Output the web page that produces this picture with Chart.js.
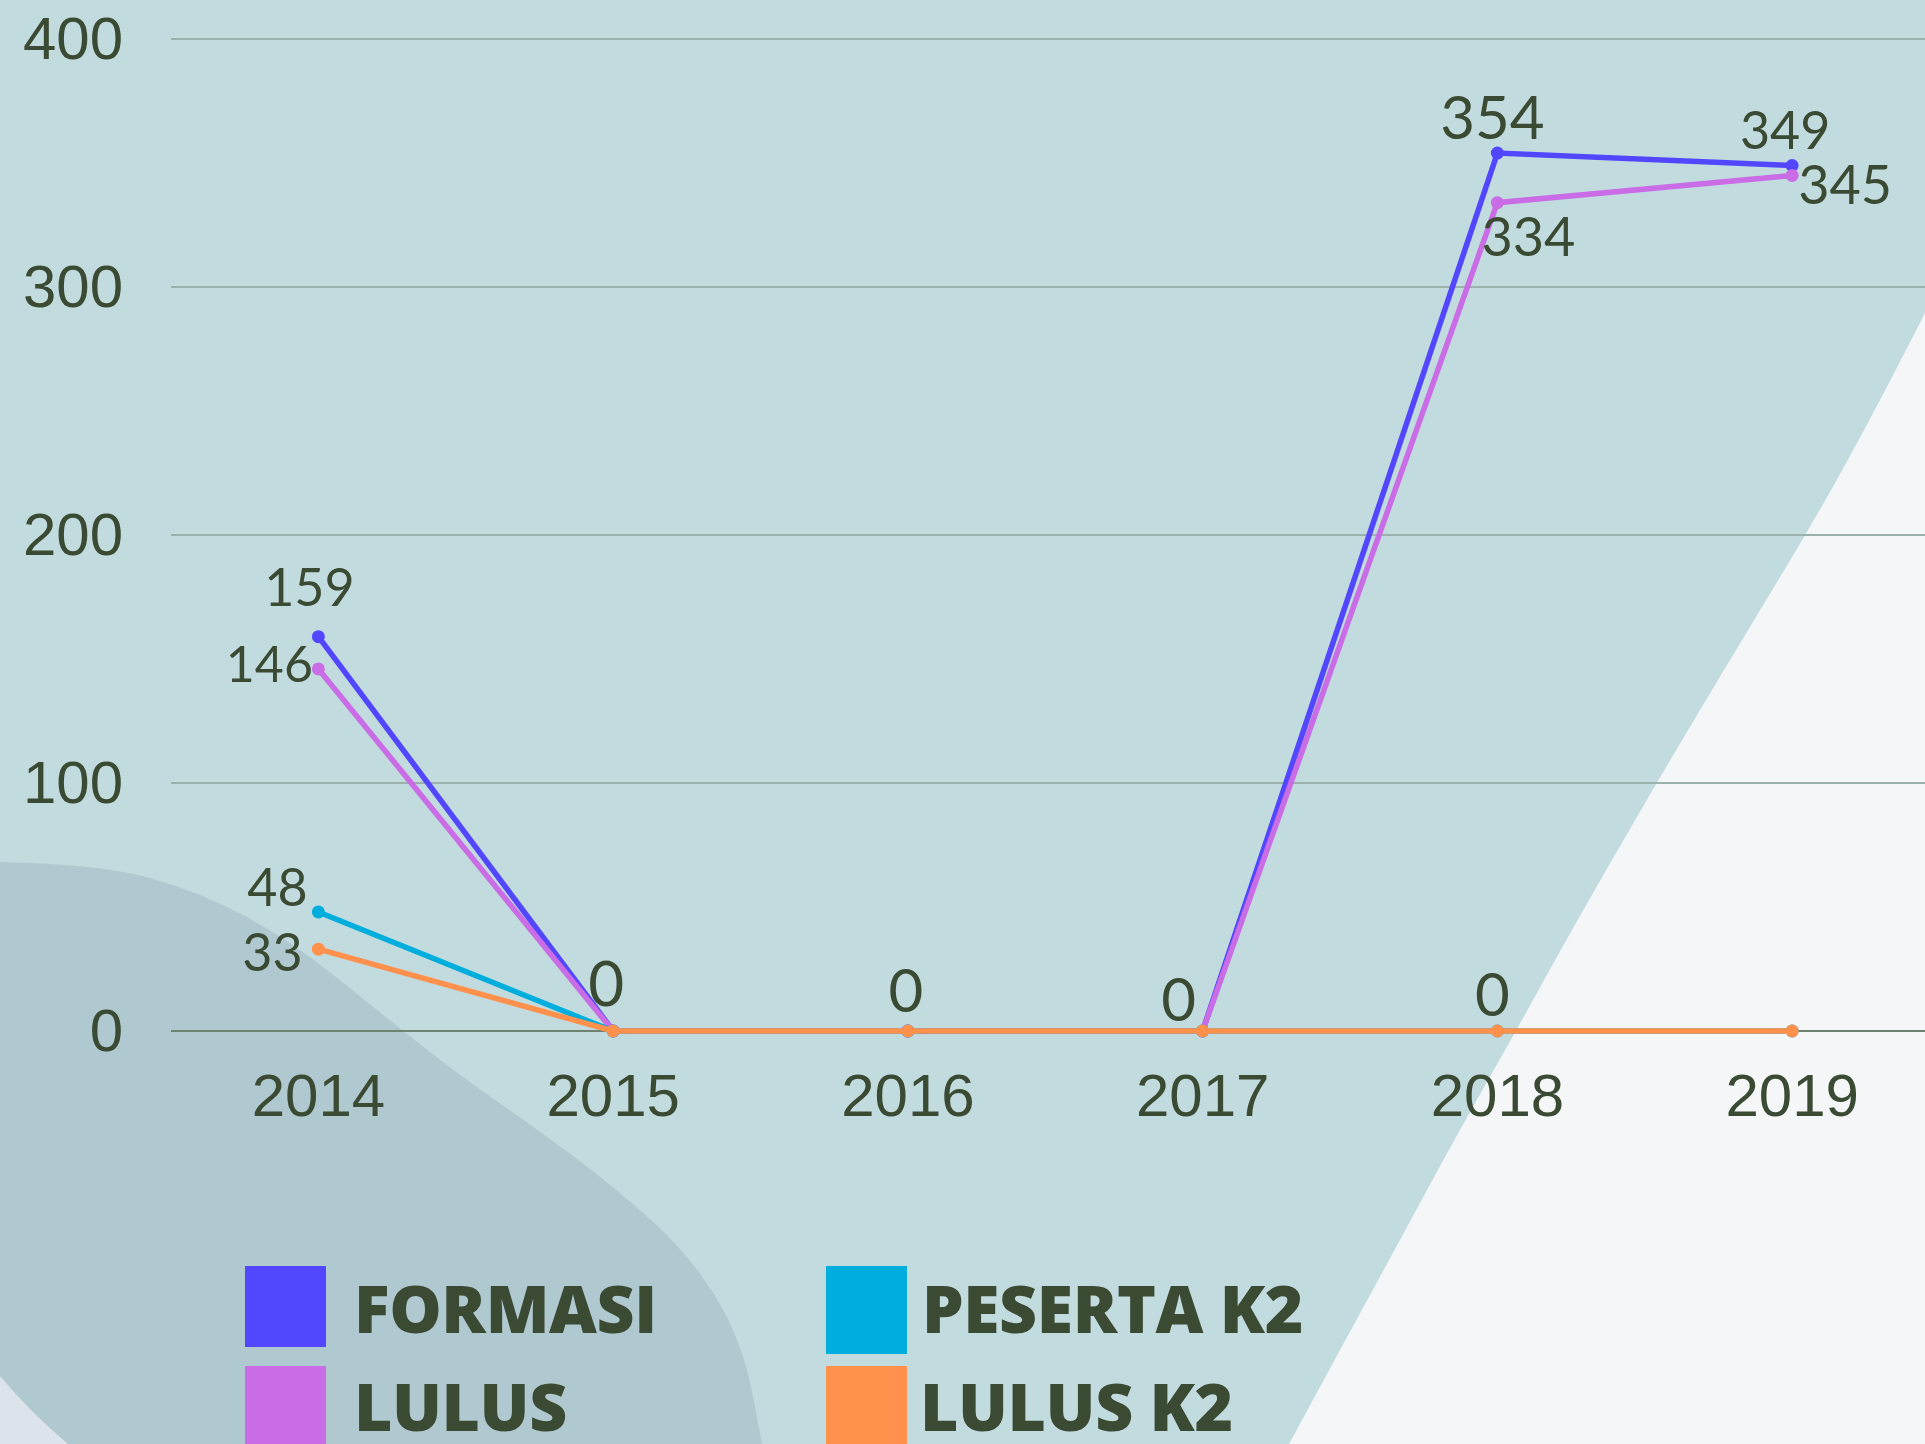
<!DOCTYPE html>
<html><head><meta charset="utf-8">
<script src="https://cdn.jsdelivr.net/npm/chart.js@4.4.1/dist/chart.umd.min.js"></script>
<style>
html,body{margin:0;padding:0;overflow:hidden;width:1925px;height:1444px;background:#C2DBDF;}
#wrap{position:relative;width:1925px;height:1444px;overflow:hidden;}
canvas{position:absolute;left:0;top:0;}
.lg-box{position:absolute;width:81px;}
.lg-text{position:absolute;font-family:'Open Sans',sans-serif;font-weight:800;font-size:66px;line-height:66px;letter-spacing:-0.4px;color:#3B4A32;white-space:nowrap;}
</style></head><body>
<div id="wrap"><canvas id="c" width="1946" height="1444"></canvas><div id="legend"></div></div>
<script>
// ---- data ----
const years = ['2014', '2015', '2016', '2017', '2018', '2019'];
const formasi = [159, 0, 0, 0, 354, 349];
const lulus = [146, 0, 0, 0, 334, 345];
const pesertaK2 = [48, 0, 0, 0, 0, 0];
const lulusK2 = [33, 0, 0, 0, 0, 0];
const yTicks = [0, 100, 200, 300, 400];
const seriesNames = ['FORMASI', 'LULUS', 'PESERTA K2', 'LULUS K2'];

// ---- styles ----
const seriesColors = ['#5247FF', '#C96CE6', '#00AEDD', '#FF914D'];
const ink = '#3B4A32';
// value labels: [series, point, dx, dy, fontSize]
const labelSpecs = [
  [0, 0, -9, -49, 52], [0, 4, -5, -36, 60], [0, 5, -7, -35, 52],
  [1, 0, -49, -5, 50], [1, 4, 31, 34, 54], [1, 5, 53, 9, 54],
  [2, 0, -41, -25, 52],
  [3, 0, -46, 3, 52], [3, 1, -7, -47, 62], [3, 2, -2, -41, 60], [3, 3, -24, -32, 60], [3, 4, -5, -37, 60]
];
// legend layout: [series, boxLeft, boxTop, boxHeight, textLeft, textTop]
const legendLayout = [
  [0, 245, 1266, 81, 354, 1274],
  [2, 826, 1266, 88, 922, 1274],
  [1, 245, 1366, 90, 354, 1372],
  [3, 826, 1366, 90, 920, 1372]
];

const lg = document.getElementById('legend');
legendLayout.forEach(([s, bl, bt, bh, tl, tt]) => {
  const b = document.createElement('div');
  b.className = 'lg-box';
  b.style.cssText = `left:${bl}px;top:${bt}px;height:${bh}px;background:${seriesColors[s]}`;
  lg.appendChild(b);
  const t = document.createElement('div');
  t.className = 'lg-text';
  t.style.cssText = `left:${tl}px;top:${tt}px`;
  t.textContent = seriesNames[s];
  lg.appendChild(t);
});

function smoothPath(ctx, pts) {
  ctx.moveTo(pts[0][0], pts[0][1]);
  for (let i = 1; i < pts.length - 1; i++) {
    const mx = (pts[i][0] + pts[i + 1][0]) / 2, my = (pts[i][1] + pts[i + 1][1]) / 2;
    ctx.quadraticCurveTo(pts[i][0], pts[i][1], mx, my);
  }
  const l = pts[pts.length - 1];
  ctx.lineTo(l[0], l[1]);
}

const backdrop = {
  id: 'backdrop',
  beforeDraw(chart) {
    const ctx = chart.ctx, W = chart.width, H = chart.height;
    ctx.save();
    ctx.fillStyle = '#C2DBDF';
    ctx.fillRect(0, 0, W, H);
    // bottom-left blob
    ctx.beginPath();
    smoothPath(ctx, [[0, 862], [100, 864], [200, 892], [290, 940], [383, 1015], [459, 1075], [530, 1124], [612, 1185], [690, 1255], [742, 1340], [762, 1444]]);
    ctx.lineTo(0, H); ctx.closePath();
    ctx.fillStyle = '#B0C9D0'; ctx.fill();
    // corner
    ctx.beginPath();
    ctx.moveTo(0, 1376); ctx.quadraticCurveTo(30, 1412, 68, H); ctx.lineTo(0, H); ctx.closePath();
    ctx.fillStyle = '#DCE3EA'; ctx.fill();
    // right light area
    ctx.beginPath();
    smoothPath(ctx, [[1925, 313], [1878, 405], [1817, 516], [1745, 635], [1655, 785], [1566, 940], [1516, 1031], [1454, 1140], [1400, 1240], [1340, 1350], [1289, 1444]]);
    ctx.lineTo(W, H); ctx.lineTo(W, 313); ctx.closePath();
    ctx.fillStyle = '#F4F6F8'; ctx.fill();
    ctx.restore();
  }
};

const valueLabels = {
  id: 'valueLabels',
  afterDatasetsDraw(chart) {
    const ctx = chart.ctx;
    ctx.save();
    ctx.fillStyle = ink;
    ctx.textAlign = 'center';
    ctx.textBaseline = 'alphabetic';
    labelSpecs.forEach(([s, i, dx, dy, fs]) => {
      const meta = chart.getDatasetMeta(s);
      const pt = meta.data[i];
      const v = chart.data.datasets[s].data[i];
      ctx.font = `400 ${fs}px Lato, 'Noto Sans', sans-serif`;
      ctx.fillText(String(v), pt.x + dx, pt.y + dy + fs * 0.36);
    });
    ctx.restore();
  }
};

const seriesData = [formasi, lulus, pesertaK2, lulusK2];
const drawOrder = [3, 2, 1, 0];
const datasets = seriesData.map((d, k) => ({
  label: seriesNames[k],
  data: d,
  borderColor: seriesColors[k],
  backgroundColor: seriesColors[k],
  pointBackgroundColor: seriesColors[k],
  pointBorderWidth: 0,
  pointRadius: 6.5,
  borderWidth: 5.5,
  tension: 0,
  fill: false,
  clip: false,
  order: drawOrder[k]
}));

new Chart(document.getElementById('c'), {
  type: 'line',
  data: { labels: years, datasets },
  options: {
    responsive: false,
    animation: false,
    events: [],
    layout: { padding: { top: 39, right: 4, bottom: 0, left: 0 } },
    plugins: { legend: { display: false }, tooltip: { enabled: false } },
    scales: {
      x: {
        offset: true,
        grid: { display: false, drawTicks: false },
        border: { display: false },
        ticks: { color: ink, font: { family: "'Liberation Sans', Arial, sans-serif", size: 60 }, padding: 32, maxRotation: 0, autoSkip: false },
        afterFit(scale) { scale.height = 413; }
      },
      y: {
        min: 0, max: 400,
        afterBuildTicks(scale) { scale.ticks = yTicks.map(v => ({ value: v })); },
        grid: {
          drawTicks: true,
          tickLength: 48,
          tickColor: 'rgba(0,0,0,0)',
          color: c => (c.tick && c.tick.value === 0) ? '#6E8270' : '#9BB1AC',
          lineWidth: 2
        },
        border: { display: false },
        ticks: { color: ink, font: { family: "'Liberation Sans', Arial, sans-serif", size: 60 }, padding: 0, labelOffset: 3 },
        afterFit(scale) { scale.width = 171; }
      }
    }
  },
  plugins: [backdrop, valueLabels]
});
</script>
</body></html>
